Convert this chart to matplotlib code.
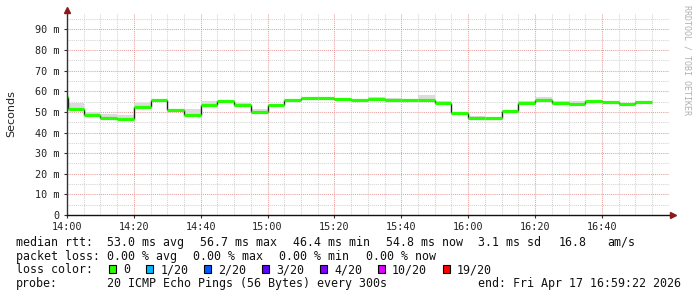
import numpy as np
import matplotlib
matplotlib.use("Agg")
import matplotlib.pyplot as plt
from matplotlib.patches import Rectangle

# ---- data -------------------------------------------------------------
# step edges in minutes after 14:00
step_edges = [0, 0.4, 5, 10, 15, 20, 25, 30, 35, 40, 45, 50, 55, 60, 65, 70,
              75, 80, 85, 90, 95, 100, 105, 110, 115, 120, 125, 130, 135, 140,
              145, 150, 155, 160, 165, 170, 175]
median_ms = [57.0, 51.6, 48.3, 47.1, 46.4, 52.4, 55.8, 51.1, 48.7, 53.3,
             55.5, 53.2, 49.8, 53.2, 55.7, 56.6, 56.7, 56.1, 55.8, 56.4,
             56.0, 55.8, 55.8, 54.4, 49.5, 47.2, 46.8, 50.3, 54.4, 55.7,
             54.5, 53.9, 55.1, 54.7, 53.9, 55.0]
smoke_hi_ms = [57.5, 54.3, 50.0, 49.0, 48.7, 54.3, 56.0, 51.5, 51.6, 55.1,
               55.7, 54.3, 51.6, 53.9, 56.0, 56.8, 57.0, 56.4, 56.0, 57.2,
               56.5, 56.2, 58.4, 55.5, 49.8, 47.8, 47.0, 50.6, 55.5, 57.4,
               55.4, 55.4, 55.6, 55.1, 54.3, 55.2]
smoke_lo_ms = [56.5, 51.0, 47.8, 46.6, 46.0, 51.8, 55.3, 50.6, 48.2, 52.8,
               55.0, 52.7, 49.3, 52.7, 55.2, 56.1, 56.2, 55.6, 55.3, 55.9,
               55.5, 55.3, 55.3, 53.9, 49.0, 46.7, 46.3, 49.8, 53.9, 55.2,
               54.0, 53.4, 54.6, 54.2, 53.4, 54.2]

x_tick_minutes = [0, 20, 40, 60, 80, 100, 120, 140, 160]
x_tick_labels = ["14:00", "14:20", "14:40", "15:00", "15:20", "15:40",
                 "16:00", "16:20", "16:40"]
y_tick_values = [0, 10, 20, 30, 40, 50, 60, 70, 80, 90]
y_tick_labels = ["0", "10 m", "20 m", "30 m", "40 m", "50 m", "60 m",
                 "70 m", "80 m", "90 m"]

rtt_stats = ["53.0 ms avg", "56.7 ms max", "46.4 ms min", "54.8 ms now",
             "3.1 ms sd", "16.8", "am/s"]
loss_stats = ["0.00 % avg", "0.00 % max", "0.00 % min", "0.00 % now"]
loss_labels = ["0", "1/20", "2/20", "3/20", "4/20", "10/20", "19/20"]
loss_colors = ["#26ff00", "#00b8ff", "#0059ff", "#5e00ff", "#7e00ff",
               "#dd00ff", "#ff0000"]
probe_text = "20 ICMP Echo Pings (56 Bytes) every 300s"
end_text = "end: Fri Apr 17 16:59:22 2026"

# ---- figure -----------------------------------------------------------
W, H = 697, 297
fig = plt.figure(figsize=(W / 100, H / 100), dpi=100)
fig.patch.set_facecolor("white")

ax_left, ax_right, ax_bottom, ax_top = 67, 668.8, 215, 13.3
ax = fig.add_axes([ax_left / W, (H - ax_bottom) / H,
                   (ax_right - ax_left) / W, (ax_bottom - ax_top) / H])
ax.set_xlim(0, 180)
ax.set_ylim(0, 97.8)
ax.set_facecolor("white")

for s in ax.spines.values():
    s.set_visible(False)

# grid
dots = (0, (1, 1))
for m in range(5, 180, 5):
    if m % 20 != 0:
        ax.axvline(m, color="#d4d4d4", lw=0.75, ls=dots, zorder=0)
for m in range(20, 180, 20):
    ax.axvline(m, color="#e8a0a0", lw=0.75, ls=dots, zorder=0.5)
for v in range(5, 100, 10):
    ax.axhline(v, color="#d4d4d4", lw=0.75, ls=dots, zorder=0)
for v in range(10, 100, 10):
    ax.axhline(v, color="#e8a0a0", lw=0.75, ls=dots, zorder=0.5)

# smoke
edges = np.array(step_edges, dtype=float)
lo = np.append(smoke_lo_ms, smoke_lo_ms[-1])
hi = np.append(smoke_hi_ms, smoke_hi_ms[-1])
ax.fill_between(edges, lo, hi, step="post", color="#dcdcdc", lw=0, zorder=1)

# median
med = np.array(median_ms)
ax.vlines(edges[1:-1], med[:-1], med[1:], color="#222222", lw=1.0, zorder=2)
ax.hlines(med, edges[:-1], edges[1:], color="#26ff00", lw=2.3, zorder=3)

# ticks
ax.set_xticks(x_tick_minutes)
ax.set_xticklabels(x_tick_labels)
ax.set_yticks(y_tick_values)
ax.set_yticklabels(y_tick_labels)
ax.tick_params(axis="both", length=2.2, width=0.8, color="#333333",
               labelsize=7.3, labelcolor="#222222")
ax.tick_params(axis="y", pad=2.9)
ax.tick_params(axis="x", pad=2.6)
for lab in ax.get_xticklabels() + ax.get_yticklabels():
    lab.set_family("DejaVu Sans Mono")

# axes lines with arrows
ax.plot([0, 0], [0, 98.5], color="#333333", lw=1.0, clip_on=False, zorder=4)
ax.plot([0], [99.6], marker="^", color="#8b1a1a", ms=4, clip_on=False,
        zorder=5)
ax.plot([0, 180.5], [0, 0], color="#111111", lw=1.0, clip_on=False, zorder=4)
ax.plot([181.2], [0], marker=">", color="#8b1a1a", ms=4, clip_on=False,
        zorder=5)

# y label
fig.text(11 / W, 1 - 114 / H, "Seconds", rotation=90, ha="center",
         va="center", fontsize=8, family="DejaVu Sans", color="#222222")

# right watermark
fig.text(687 / W, 1 - 5 / H, "RRDTOOL / TOBI OETIKER", rotation=270,
         ha="center", va="top", fontsize=6, family="DejaVu Sans Mono",
         color="#b0b0b0")

# legend lines
mono = dict(family="DejaVu Sans Mono", fontsize=8.4, color="#111111",
            va="baseline", ha="left")


def put(x, y, s):
    fig.text(x / W, 1 - y / H, s, **mono)


base = [245.8, 259.6, 273.4, 287.2]
put(16, base[0], "median rtt:")
for x, s in zip([107.3, 200, 292.7, 386, 478.3, 558.3, 607.3], rtt_stats):
    put(x, base[0], s)
put(16, base[1], "packet loss:")
for x, s in zip([107.3, 193.3, 279.3, 365.7], loss_stats):
    put(x, base[1], s)
put(16, base[2], "loss color:")
for x, lab, c in zip([109, 146, 204, 261.7, 320, 377.7, 442.7],
                     loss_labels, loss_colors):
    fig.add_artist(Rectangle((x / W, 1 - 273.3 / H), 7 / W, 8 / H,
                             transform=fig.transFigure, facecolor=c,
                             edgecolor="black", lw=0.8))
    put(x + 14.3, base[2], lab)
put(16, base[3], "probe:")
put(107.3, base[3], probe_text)
put(478.3, base[3], end_text)

fig.savefig("out.png", dpi=100, facecolor="white")
